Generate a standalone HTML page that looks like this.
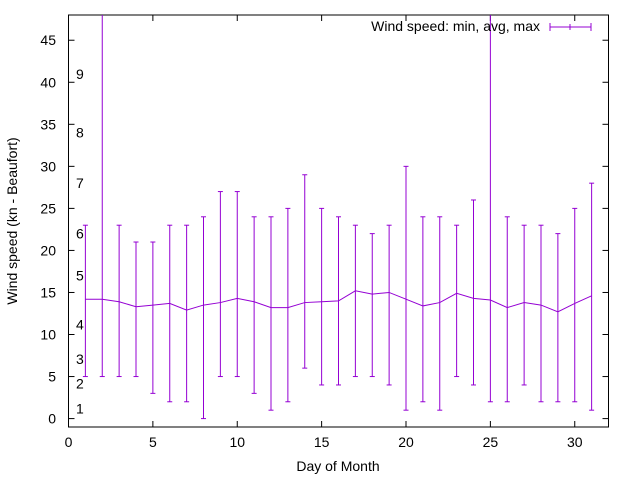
<!DOCTYPE html>
<html><head><meta charset="utf-8"><style>
body{margin:0;background:#fff;}
svg{display:block;font-family:"Liberation Sans",sans-serif;}
</style></head><body>
<svg id="chart" width="640" height="480" viewBox="0 0 640 480" xmlns="http://www.w3.org/2000/svg">
<rect width="640" height="480" fill="#fff"/>
<g id="axes"></g>
<g id="marks"></g>
<text x="338" y="471" font-size="14" text-anchor="middle">Day of Month</text>
<text transform="translate(17,221) rotate(-90)" font-size="14" text-anchor="middle">Wind speed (kn - Beaufort)</text>
<g>
<text x="540" y="31" font-size="14" text-anchor="end">Wind speed: min, avg, max</text>
<line x1="550" y1="27" x2="591" y2="27" stroke="#9400d3" stroke-width="1"/>
<line x1="550" y1="23" x2="550" y2="31" stroke="#9400d3"/>
<line x1="591" y1="23" x2="591" y2="31" stroke="#9400d3"/>
<line x1="570" y1="24" x2="570" y2="30" stroke="#9400d3"/>
</g>
</svg>
<script>
const days=[1,2,3,4,5,6,7,8,9,10,11,12,13,14,15,16,17,18,19,20,21,22,23,24,25,26,27,28,29,30,31];
const minVals=[5,5,5,5,3,2,2,0,5,5,3,1,2,6,4,4,5,5,4,1,2,1,5,4,2,2,4,2,2,2,1];
const avgVals=[14.2,14.2,13.9,13.3,13.5,13.7,12.9,13.5,13.8,14.3,13.9,13.2,13.2,13.8,13.9,14.0,15.2,14.8,15.0,14.2,13.4,13.8,14.9,14.3,14.1,13.2,13.8,13.5,12.7,13.7,14.6];
const maxVals=[23,55,23,21,21,23,23,24,27,27,24,24,25,29,25,24,23,22,23,30,24,24,23,26,55,24,23,23,22,25,28];
const xTicks=[0,5,10,15,20,25,30];
const yTicks=[0,5,10,15,20,25,30,35,40,45];
const beaufortLabels=["1","2","3","4","5","6","7","8","9"];
const beaufortVals=[1.2,4.2,7.1,11.2,17,22,28,34,41];

const L=68.5,R=608.5,T=15,B=427;
const X0=0,X1=32,Y0=-1,Y1=48;
const sx=v=>L+(v-X0)/(X1-X0)*(R-L);
const sy=v=>B-(v-Y0)/(Y1-Y0)*(B-T);
const cl=v=>Math.max(T,Math.min(B,v));
const NS="http://www.w3.org/2000/svg";
function mk(tag,attrs,parent,txt){const e=document.createElementNS(NS,tag);for(const k in attrs)e.setAttribute(k,attrs[k]);if(txt!==undefined)e.textContent=txt;parent.appendChild(e);return e;}
const ax=document.getElementById('axes'),mg=document.getElementById('marks');
xTicks.forEach(t=>{const x=sx(t);
 mk('line',{x1:x,y1:B,x2:x,y2:B-6,stroke:'#000'},ax);
 mk('line',{x1:x,y1:T,x2:x,y2:T+6,stroke:'#000'},ax);
 const e=mk('text',{x:x,y:B+20,'font-size':14,'text-anchor':'middle'},ax,String(t));
 
 
});
yTicks.forEach(t=>{const y=sy(t);
 mk('line',{x1:L,y1:y,x2:L+6,y2:y,stroke:'#000'},ax);
 mk('line',{x1:R,y1:y,x2:R-6,y2:y,stroke:'#000'},ax);
 const e=mk('text',{x:56,y:y+5,'font-size':14,'text-anchor':'end'},ax,String(t));
 
 
});
beaufortLabels.forEach((b,i)=>{
 const e=mk('text',{x:76,y:sy(beaufortVals[i])+5,'font-size':14},ax,b);
 
 
});
const fr=mk('rect',{x:L,y:T,width:R-L,height:B-T,fill:'none',stroke:'#000'},ax);


const c='#9400d3';
days.forEach((d,i)=>{const x=sx(d),y1=cl(sy(minVals[i])),y2=cl(sy(maxVals[i]));
 const g=mk('g',{},mg);
 
 
 mk('line',{x1:x,y1:y1,x2:x,y2:y2,stroke:c},g);
 mk('line',{x1:x-2.5,y1:y1,x2:x+2.5,y2:y1,stroke:c},g);
 if(sy(maxVals[i])>=T) mk('line',{x1:x-2.5,y1:y2,x2:x+2.5,y2:y2,stroke:c},g);
});
const pts=days.map((d,i)=>sx(d)+','+sy(avgVals[i])).join(' ');
const pl=mk('polyline',{points:pts,fill:'none',stroke:c,'stroke-width':1},mg);


</script>
</body></html>
